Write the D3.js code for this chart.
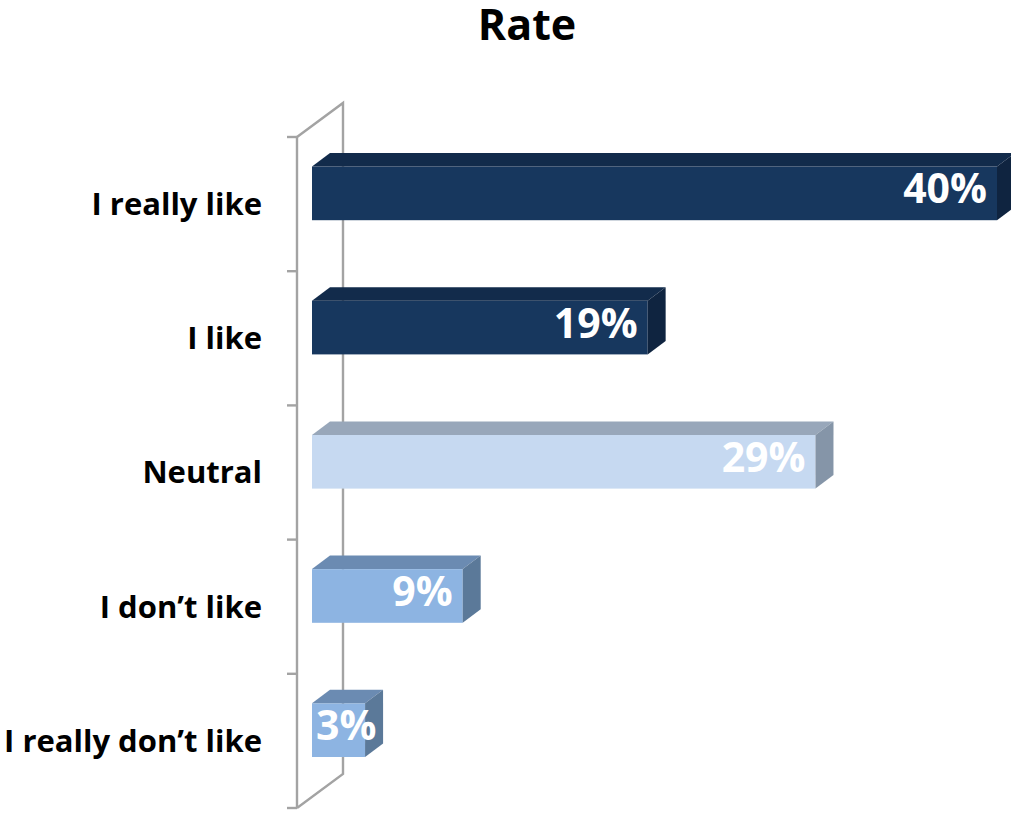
<!DOCTYPE html>
<html>
<head>
<meta charset="utf-8">
<script src="https://cdn.jsdelivr.net/npm/d3@7"></script>
<style>
  html, body { margin: 0; padding: 0; background: #fff; }
  svg { display: block; }
  text { font-family: "Open Sans", Lato, sans-serif; font-weight: bold; }
</style>
</head>
<body>
<svg id="chart" width="1011" height="815"></svg>
<script>
// ---- data ----
const categories = ["I really like", "I like", "Neutral", "I don\u2019t like", "I really don\u2019t like"];
const values = [40, 19.6, 29.4, 8.8, 3.1];           // bar lengths (%)
const valueLabels = ["40%", "19%", "29%", "9%", "3%"]; // printed labels
const title = "Rate";

// ---- styles ----
const palette = [
  { front: "#17375E", top: "#122b4b", side: "#0f2440" },
  { front: "#17375E", top: "#122b4b", side: "#0f2440" },
  { front: "#C6D9F1", top: "#98a7ba", side: "#8595a8" },
  { front: "#8DB4E2", top: "#6b8bb2", side: "#5b7999" },
  { front: "#8DB4E2", top: "#6b8bb2", side: "#5b7999" }
];
const axisColor = "#a3a3a3";
const fontFam = "'Open Sans', Lato, sans-serif";

const svg = d3.select("#chart");

const x = d3.scaleLinear().domain([0, 40]).range([312, 997]);
const y = d3.scaleBand().domain(categories).range([137, 808]).padding(0);
const bw = y.bandwidth();

const wallDx = 46, wallDy = -34;   // depth of the 3D wall
const barDx = 18, barDy = -13.5;   // depth of each bar
const axisX = 297;

// title
svg.append("text")
  .attr("x", 527).attr("y", 40)
  .attr("text-anchor", "middle")
  .attr("font-size", 43)
  .attr("fill", "#000")
  .text(title);

// back wall lines
const y0 = y.range()[0], y1 = y.range()[1];
const wall = svg.append("g").attr("stroke", axisColor).attr("stroke-width", 2.4).attr("fill", "none");
wall.append("path").attr("d", `M${axisX},${y0} L${axisX + wallDx},${y0 + wallDy} L${axisX + wallDx},${y1 + wallDy} L${axisX},${y1}`);

// bars
const bars = svg.append("g").selectAll("g.bar").data(categories).join("g").attr("class", "bar");
bars.each(function(c, i) {
  const g = d3.select(this);
  const x0 = x(0), x1 = x(values[i]);
  const top = y(c) + bw * 0.22;
  const bot = top + bw * 0.40;
  const col = palette[i];
  g.append("rect").attr("x", x0).attr("y", top).attr("width", x1 - x0).attr("height", bot - top).attr("fill", col.front);
  g.append("path")
    .attr("d", `M${x0},${top} L${x0 + barDx},${top + barDy} L${x1 + barDx},${top + barDy} L${x1},${top} Z`)
    .attr("fill", col.top);
  g.append("path")
    .attr("d", `M${x1},${top} L${x1 + barDx},${top + barDy} L${x1 + barDx},${bot + barDy} L${x1},${bot} Z`)
    .attr("fill", col.side);
  const t = g.append("text")
    .attr("font-size", 41)
    .attr("fill", "#fff")
    .attr("dominant-baseline", "central")
    .attr("y", (top + bot) / 2 - 6)
    .text(valueLabels[i]);
  const tw = t.node().getComputedTextLength();
  const right = Math.max(x1 - 10, x0 + 4 + tw);
  t.attr("x", right - tw);
});

// front axis with ticks
const axis = d3.axisLeft(y).tickSize(0).tickPadding(35).tickSizeOuter(0);
const ag = svg.append("g").attr("transform", `translate(${axisX},0)`).call(axis);
ag.select(".domain").remove();
ag.selectAll("text").attr("font-size", 31).attr("fill", "#000").attr("font-family", fontFam).attr("font-weight", "bold").attr("dy", "0.35em");
const tg = svg.append("g").attr("stroke", axisColor).attr("stroke-width", 2.4);
tg.append("line").attr("x1", axisX).attr("x2", axisX).attr("y1", y0).attr("y2", y1);
const tickYs = categories.map(c => y(c)).concat([y1]);
tg.selectAll("line.tk").data(tickYs).join("line").attr("class", "tk")
  .attr("x1", axisX - 10).attr("x2", axisX).attr("y1", d => d).attr("y2", d => d);
</script>
</body>
</html>
